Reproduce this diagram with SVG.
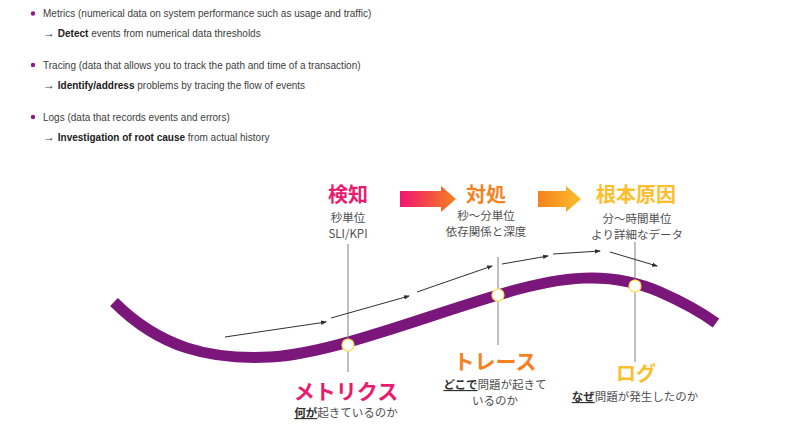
<svg xmlns="http://www.w3.org/2000/svg" width="800" height="436" viewBox="0 0 800 436">
<style>
.b{font-family:"Liberation Sans",Arial,sans-serif;font-size:10px;fill:#404040}
.bb{font-weight:bold;fill:#202020}
.h{font-family:"Noto Sans CJK JP",sans-serif;font-weight:bold;text-anchor:middle}
.s{font-family:"Noto Sans CJK JP",sans-serif;font-size:11.5px;fill:#505050;text-anchor:middle}
.u{font-weight:bold;text-decoration:underline;fill:#303030}
.v{stroke:#808080;stroke-width:1}
.a{stroke:#303030;stroke-width:1;fill:none;marker-end:url(#ah)}
.dot{fill:#fff;stroke:#ffe24a;stroke-width:1.2}
</style>
<defs>
<marker id="ah" markerWidth="6" markerHeight="6" refX="5" refY="3" orient="auto" markerUnits="userSpaceOnUse"><path d="M0,0.8 L6,3 L0,5.2z" fill="#303030"/></marker>
<linearGradient id="g1" x1="0" x2="1"><stop offset="0" stop-color="#f0146e"/><stop offset="1" stop-color="#f5821f"/></linearGradient>
<linearGradient id="g2" x1="0" x2="1"><stop offset="0" stop-color="#f5821f"/><stop offset="1" stop-color="#fbbe2c"/></linearGradient>
</defs>
<g id="bullets">
<circle cx="33" cy="13.5" r="2.2" fill="#8b1a8b"/>
<text class="b" x="43" y="17">Metrics (numerical data on system performance such as usage and traffic)</text>
<text class="b" x="43" y="37"><tspan font-size="12">→</tspan> <tspan class="bb">Detect</tspan> events from numerical data thresholds</text>
<circle cx="33" cy="65" r="2.2" fill="#8b1a8b"/>
<text class="b" x="43" y="69">Tracing (data that allows you to track the path and time of a transaction)</text>
<text class="b" x="43" y="89"><tspan font-size="12">→</tspan> <tspan class="bb">Identify/address</tspan> problems by tracing the flow of events</text>
<circle cx="33" cy="117" r="2.2" fill="#8b1a8b"/>
<text class="b" x="43" y="121">Logs (data that records events and errors)</text>
<text class="b" x="43" y="141"><tspan font-size="12">→</tspan> <tspan class="bb">Investigation of root cause</tspan> from actual history</text>
</g>
<g id="curve">
<path d="M114,302 C160,348 210,360 270,357 C330,354 420,318 498,295 C560,276 610,270 660,292 C685,303 705,315 716,323" fill="none" stroke="#7b177b" stroke-width="11"/>
</g>
<g id="connectors">
<line class="v" x1="348" y1="244" x2="348" y2="372"/>
<line class="v" x1="498" y1="257" x2="498" y2="345"/>
<line class="v" x1="635" y1="242" x2="635" y2="362"/>
<path class="a" d="M225,337 L326,322"/>
<path class="a" d="M331,318 L409,296"/>
<path class="a" d="M417,292 L492,266"/>
<path class="a" d="M502,264 L548,256"/>
<path class="a" d="M553,254 L600,251"/>
<path class="a" d="M610,252 L657,266"/>
<path d="M400,191 H441 V186 L456,199 L441,212 V207 H400z" fill="url(#g1)"/>
<path d="M538,191 H566 V186 L581,199 L566,212 V207 H538z" fill="url(#g2)"/>
</g>
<g id="metrics-node">
<circle class="dot" cx="348" cy="345" r="6"/>
<text class="h" x="348" y="202" font-size="20" fill="#ea1a6e">検知</text>
<text class="s" x="348" y="222">秒単位</text>
<text class="s" x="348" y="238">SLI/KPI</text>
<text class="h" x="346" y="399" font-size="21" fill="#ea1a6e">メトリクス</text>
<text class="s" x="346" y="417"><tspan class="u">何が</tspan>起きているのか</text>
</g>
<g id="trace-node">
<circle class="dot" cx="498" cy="295" r="6"/>
<text class="h" x="486" y="202" font-size="20" fill="#f5821f">対処</text>
<text class="s" x="486" y="220">秒～分単位</text>
<text class="s" x="486" y="236">依存関係と深度</text>
<text class="h" x="495" y="369" font-size="21" fill="#f5821f">トレース</text>
<text class="s" x="495" y="389"><tspan class="u">どこで</tspan>問題が起きて</text>
<text class="s" x="495" y="405">いるのか</text>
</g>
<g id="log-node">
<circle class="dot" cx="635" cy="286" r="6"/>
<text class="h" x="636" y="202" font-size="20" fill="#fbbe2c">根本原因</text>
<text class="s" x="637" y="223">分～時間単位</text>
<text class="s" x="637" y="239">より詳細なデータ</text>
<text class="h" x="636" y="381" font-size="20" fill="#fbbe2c">ログ</text>
<text class="s" x="635" y="401"><tspan class="u">なぜ</tspan>問題が発生したのか</text>
</g>
</svg>
